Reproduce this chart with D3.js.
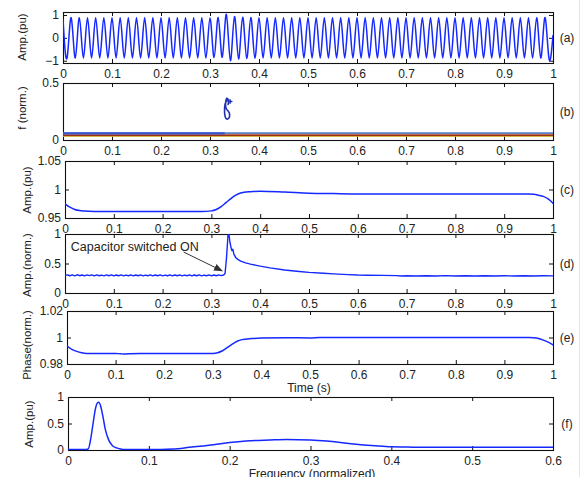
<!DOCTYPE html>
<html>
<head>
<meta charset="utf-8">
<script src="https://cdn.jsdelivr.net/npm/d3@7/dist/d3.min.js"></script>
<style>
  html, body { margin: 0; padding: 0; background: #fff; }
  svg { display: block; }
  text { font-family: "Liberation Sans", Arial, Helvetica, sans-serif; fill: #222; }
</style>
</head>
<body>
<svg id="chart" width="584" height="477"></svg>
<script>
// ---------- data ----------
// (a) voltage waveform: signed half-cycle extremes, one every 1/120 s (60 Hz)
const waveSampleRate = 120;
const waveExtremes = [
  0.80,-0.88, 0.88,-0.88, 0.88,-0.88, 0.88,-0.88, 0.88,-0.88,
  0.88,-0.88, 0.88,-0.88, 0.88,-0.88, 0.88,-0.88, 0.88,-0.88,
  0.88,-0.88, 0.88,-0.88, 0.88,-0.88, 0.88,-0.88, 0.88,-0.88,
  0.88,-0.88, 0.88,-0.88, 0.88,-0.88, 0.87,-0.86, 0.89,-0.85,
  1.03,-1.00, 0.93,-0.92, 0.90,-0.90, 0.89,-0.89, 0.88,-0.88,
  0.88,-0.88, 0.88,-0.88, 0.88,-0.88, 0.88,-0.88, 0.88,-0.88,
  0.88,-0.88, 0.88,-0.88, 0.88,-0.88, 0.88,-0.88, 0.88,-0.88,
  0.88,-0.88, 0.88,-0.88, 0.88,-0.88, 0.88,-0.88, 0.88,-0.88,
  0.88,-0.88, 0.88,-0.88, 0.88,-0.88, 0.88,-0.88, 0.88,-0.88,
  0.88,-0.88, 0.88,-0.88, 0.88,-0.88, 0.88,-0.88, 0.88,-0.88,
  0.88,-0.88, 0.88,-0.88, 0.88,-0.88, 0.88,-0.88, 0.88,-0.88,
  0.88,-0.88, 0.88,-0.88, 0.88,-0.88, 0.88,-0.88, 0.88,-0.88,
  0.10
];

// (b) instantaneous frequency tracks [time, f]
const freqTrackLevels = [0.058, 0.045, 0.039, 0.032];
const freqTrackSplit = 0.33;
const freqLoop = [
  [0.3350,0.352],[0.3322,0.332],[0.3302,0.300],[0.3297,0.260],[0.3302,0.220],
  [0.3320,0.193],[0.3350,0.183],[0.3382,0.190],[0.3400,0.212],[0.3393,0.238],
  [0.3362,0.258],[0.3335,0.272],[0.3318,0.300],[0.3322,0.337],[0.3340,0.366],
  [0.3365,0.360],[0.3377,0.336],[0.3370,0.312]
];
const freqMarkH = [[0.3375,0.338],[0.3445,0.338]];
const freqMarkV = [[0.3410,0.322],[0.3410,0.352]];

// (c) amplitude envelope [time, pu]
const ampEnvelope = [
  [0,0.975],[0.01,0.969],[0.02,0.965],[0.03,0.963],[0.04,0.9622],[0.06,0.9615],
  [0.10,0.9612],[0.20,0.9612],[0.28,0.9613],[0.30,0.9625],[0.31,0.9650],
  [0.32,0.9700],[0.33,0.9770],[0.34,0.9840],[0.35,0.9900],[0.36,0.9940],
  [0.38,0.9962],[0.40,0.9970],[0.45,0.9955],[0.50,0.9935],[0.55,0.9928],
  [0.60,0.9922],[0.80,0.9920],[0.95,0.9920],[0.96,0.9915],[0.97,0.9900],
  [0.98,0.9880],[0.99,0.9835],[1.00,0.9760]
];

// (d) normalised amplitude with switching transient [time, value]
const ampNorm = [
  [0,0.295],[0.005,0.308],[0.010,0.292],[0.015,0.306],[0.020,0.290],[0.025,0.309],
  [0.030,0.293],[0.035,0.305],[0.040,0.291],[0.045,0.307],[0.050,0.294],[0.055,0.306],
  [0.060,0.290],[0.065,0.308],[0.070,0.292],[0.075,0.304],[0.080,0.291],[0.085,0.306],
  [0.090,0.293],[0.095,0.307],[0.100,0.290],[0.105,0.305],[0.110,0.292],[0.115,0.306],
  [0.120,0.291],[0.125,0.304],[0.130,0.293],[0.135,0.307],[0.140,0.290],[0.145,0.305],
  [0.150,0.292],[0.155,0.306],[0.160,0.291],[0.165,0.304],[0.170,0.293],[0.175,0.306],
  [0.180,0.290],[0.185,0.305],[0.190,0.292],[0.195,0.307],[0.200,0.291],[0.205,0.304],
  [0.210,0.293],[0.215,0.306],[0.220,0.290],[0.225,0.305],[0.230,0.292],[0.235,0.307],
  [0.240,0.291],[0.245,0.304],[0.250,0.293],[0.255,0.306],[0.260,0.290],[0.265,0.305],
  [0.270,0.292],[0.275,0.307],[0.280,0.291],[0.285,0.304],[0.290,0.293],[0.295,0.306],
  [0.300,0.290],[0.305,0.305],[0.310,0.292],[0.315,0.306],[0.320,0.295],[0.325,0.305],
  [0.328,0.330],[0.331,0.600],[0.334,0.980],[0.336,1.000],[0.338,0.860],[0.340,0.780],
  [0.342,0.720],[0.344,0.740],[0.346,0.660],[0.350,0.600],[0.355,0.565],[0.360,0.540],
  [0.370,0.510],[0.380,0.490],[0.400,0.455],[0.420,0.425],[0.450,0.390],[0.480,0.365],
  [0.500,0.350],[0.530,0.335],[0.550,0.325],[0.580,0.312],[0.600,0.305],[0.620,0.302],
  [0.650,0.298],[0.680,0.295],[0.690,0.288],[0.700,0.292],[0.720,0.287],[0.740,0.293],
  [0.760,0.288],[0.780,0.294],[0.800,0.289],[0.820,0.293],[0.840,0.287],[0.860,0.292],
  [0.880,0.288],[0.900,0.293],[0.920,0.287],[0.940,0.292],[0.960,0.289],[0.980,0.293],
  [1.000,0.290]
];
const annotationText = "Capacitor switched ON";
const annotationAt = [0.012, 0.78];
const arrowFrom = [0.243, 0.695];
const arrowTo = [0.322, 0.375];

// (e) normalised phase [time, value]
const phaseNorm = [
  [0,0.9935],[0.01,0.9910],[0.02,0.9895],[0.03,0.9885],[0.04,0.9880],[0.10,0.9880],
  [0.11,0.9877],[0.12,0.9875],[0.13,0.9878],[0.15,0.9880],[0.30,0.9880],[0.31,0.9885],
  [0.32,0.9900],[0.33,0.9925],[0.34,0.9950],[0.35,0.9972],[0.36,0.9984],[0.38,0.9992],
  [0.40,0.9996],[0.45,0.9999],[0.50,0.9997],[0.52,1.0000],[0.95,1.0000],[0.96,0.9998],
  [0.97,0.9992],[0.98,0.9980],[0.99,0.9965],[1.00,0.9945]
];

// (f) spectrum [normalised frequency, pu]
const spectrum = [
  [0,0.01],[0.02,0.01],[0.025,0.02],[0.028,0.20],[0.031,0.50],[0.034,0.78],
  [0.036,0.88],[0.038,0.90],[0.040,0.85],[0.043,0.65],[0.046,0.40],[0.050,0.20],
  [0.055,0.08],[0.060,0.04],[0.065,0.02],[0.070,0.01],[0.10,0.01],[0.13,0.02],
  [0.15,0.05],[0.18,0.10],[0.20,0.14],[0.22,0.17],[0.25,0.19],[0.27,0.20],
  [0.30,0.19],[0.32,0.17],[0.35,0.12],[0.38,0.08],[0.40,0.06],[0.42,0.055],
  [0.44,0.05],[0.50,0.05],[0.60,0.05]
];

// tick values
const timeTicks = [0,0.1,0.2,0.3,0.4,0.5,0.6,0.7,0.8,0.9,1];
const freqTicks = [0,0.1,0.2,0.3,0.4,0.5,0.6];
const ticksA = [-1,0,1];
const ticksB = [0,0.5];
const ticksC = [0.95,1,1.05];
const ticksD = [0,0.5,1];
const ticksE = [0.98,1,1.02];
const ticksF = [0,0.5,1];
const panelTags = ["(a)","(b)","(c)","(d)","(e)","(f)"];
const yTitles = ["Amp.(pu)","f (norm.)","Amp.(pu)","Amp.(norm.)","Phase(norm.)","Amp.(pu)"];

// ---------- layout ----------
const svg = d3.select("#chart");
const LINE = "#1428ff";
const fmt = d3.format("~g");

svg.append("line").attr("x1",579.5).attr("x2",579.5).attr("y1",0).attr("y2",477)
  .attr("stroke","#e4e4e4").attr("stroke-width",1);

const panels = [
  {l:63, r:553, t:12,  b:63,  xd:[0,1],   yd:[-1.1,1.13], xt:timeTicks, yt:ticksA, tx:22, ty:37},
  {l:63, r:553, t:83,  b:140, xd:[0,1],   yd:[0,0.5],     xt:timeTicks, yt:ticksB, tx:22, ty:108},
  {l:65, r:553, t:161, b:218, xd:[0,1],   yd:[0.95,1.05], xt:timeTicks, yt:ticksC, tx:27, ty:190},
  {l:65, r:553, t:234, b:293, xd:[0,1],   yd:[0,1],       xt:timeTicks, yt:ticksD, tx:27, ty:265},
  {l:67, r:553, t:311, b:364, xd:[0,1],   yd:[0.98,1.02], xt:timeTicks, yt:ticksE, tx:27, ty:345},
  {l:68, r:553, t:397, b:450, xd:[0,0.6], yd:[0,1],       xt:freqTicks, yt:ticksF, tx:29, ty:424}
];

panels.forEach((p, i) => {
  p.x = d3.scaleLinear().domain(p.xd).range([p.l, p.r]);
  p.y = d3.scaleLinear().domain(p.yd).range([p.b, p.t]);
  const g = svg.append("g");
  p.g = g;
  p.clip = "clip" + i;
  svg.append("clipPath").attr("id", p.clip).append("rect")
    .attr("x", p.l).attr("y", p.t).attr("width", p.r - p.l).attr("height", p.b - p.t);

  const styleAxis = (sel, keepText) => {
    sel.select(".domain").remove();
    sel.selectAll(".tick line").attr("stroke","#111").attr("stroke-width",1);
    sel.selectAll(".tick text").attr("font-size", 12).attr("fill","#222")
      .attr("font-family","Liberation Sans, Arial, sans-serif");
    if (!keepText) sel.selectAll(".tick text").remove();
  };
  g.append("g").attr("transform", `translate(0,${p.b})`)
    .call(d3.axisBottom(p.x).tickValues(p.xt).tickFormat(fmt).tickSize(-4).tickPadding(6))
    .call(s => styleAxis(s, true));
  g.append("g").attr("transform", `translate(0,${p.t})`)
    .call(d3.axisTop(p.x).tickValues(p.xt).tickSize(-4))
    .call(s => styleAxis(s, false));
  g.append("g").attr("transform", `translate(${p.l},0)`)
    .call(d3.axisLeft(p.y).tickValues(p.yt).tickFormat(fmt).tickSize(-4).tickPadding(4))
    .call(s => styleAxis(s, true));
  g.append("g").attr("transform", `translate(${p.r},0)`)
    .call(d3.axisRight(p.y).tickValues(p.yt).tickSize(-4))
    .call(s => styleAxis(s, false));

  g.append("rect").attr("x", p.l + 0.5).attr("y", p.t + 0.5)
    .attr("width", p.r - p.l).attr("height", p.b - p.t)
    .attr("fill","none").attr("stroke","#111").attr("stroke-width",1.1);

  svg.append("text").attr("x", 567).attr("y", (p.t + p.b) / 2)
    .attr("text-anchor","middle").attr("dominant-baseline","central")
    .attr("font-size", 12).text(panelTags[i]);

  svg.append("text").attr("transform", `translate(${p.tx + 4},${p.ty}) rotate(-90)`)
    .attr("text-anchor","middle").attr("font-size", 11.5).text(yTitles[i]);
});

function plot(p, data, color, width, curve) {
  const line = d3.line().x(d => p.x(d[0])).y(d => p.y(d[1])).curve(curve || d3.curveLinear);
  return svg.append("path").datum(data)
    .attr("clip-path", `url(#${p.clip})`)
    .attr("d", line).attr("fill","none")
    .attr("stroke", color).attr("stroke-width", width)
    .attr("stroke-linejoin","round").attr("stroke-linecap","round");
}

// (a) waveform through its half-cycle extremes
const pa = panels[0];
const wavePts = waveExtremes.map((v, k) => [k / waveSampleRate, v]);
plot(pa, wavePts, LINE, 1.5, d3.curveNatural);

// (b) frequency tracks and transient loop
const pb = panels[1];
const trackColors = ["#5b7fc2", "#e0701c", "#8f1b15", "#d9b22a"];
const trackWidths = [2.2, 1, 1.4, 1];
freqTrackLevels.forEach((lvl, j) => {
  plot(pb, [[0, lvl], [1, lvl]], trackColors[j], trackWidths[j]).attr("stroke-linecap","butt");
});
plot(pb, [[0, freqTrackLevels[0]], [freqTrackSplit, freqTrackLevels[0]]], "#3a55cf", 2.2)
  .attr("stroke-linecap","butt");
plot(pb, freqLoop, "#2030b0", 1.6, d3.curveCatmullRom);
plot(pb, freqMarkH, "#2030b0", 1.5);
plot(pb, freqMarkV, "#2030b0", 1.5);

// (c) amplitude envelope
plot(panels[2], ampEnvelope, LINE, 1.5, d3.curveMonotoneX);

// (d) normalised amplitude with annotation
const pd = panels[3];
plot(pd, ampNorm, LINE, 1.4);
svg.append("defs").append("marker").attr("id","arrowHead")
  .attr("viewBox","0 0 10 10").attr("refX",9).attr("refY",5)
  .attr("markerWidth",9).attr("markerHeight",9).attr("markerUnits","userSpaceOnUse")
  .attr("orient","auto")
  .append("path").attr("d","M0,1 L10,5 L0,9 Z").attr("fill","#333");
svg.append("line")
  .attr("x1", pd.x(arrowFrom[0])).attr("y1", pd.y(arrowFrom[1]))
  .attr("x2", pd.x(arrowTo[0])).attr("y2", pd.y(arrowTo[1]))
  .attr("stroke","#333").attr("stroke-width",1).attr("marker-end","url(#arrowHead)");
svg.append("text").attr("x", pd.x(annotationAt[0])).attr("y", pd.y(annotationAt[1]))
  .attr("dominant-baseline","central").attr("font-size", 12.5).attr("fill","#333")
  .text(annotationText);

// (e) phase
plot(panels[4], phaseNorm, LINE, 1.5, d3.curveMonotoneX);
svg.append("text").attr("x", 309).attr("y", 388).attr("text-anchor","middle")
  .attr("dominant-baseline","central").attr("font-size", 12).text("Time (s)");

// (f) spectrum
plot(panels[5], spectrum, LINE, 1.5, d3.curveMonotoneX);
svg.append("text").attr("x", 312).attr("y", 478).attr("text-anchor","middle")
  .attr("font-size", 12).text("Frequency (normalized)");
</script>
</body>
</html>
